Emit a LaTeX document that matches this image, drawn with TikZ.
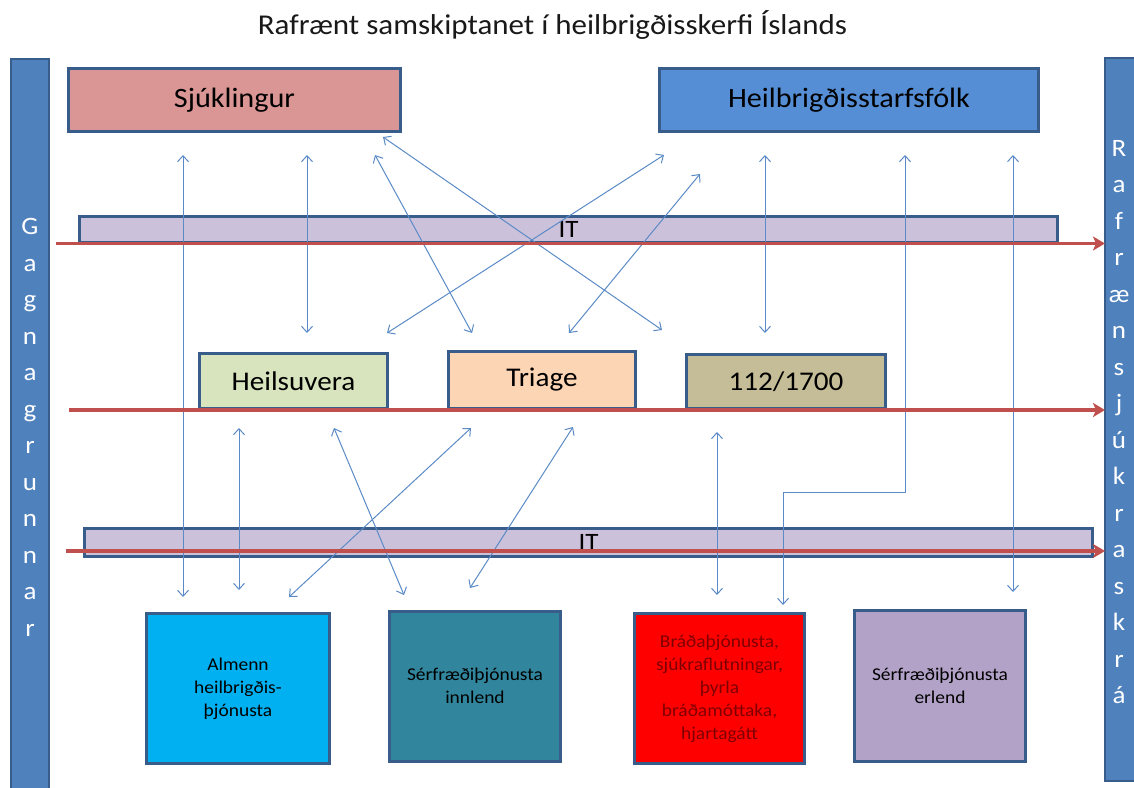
\documentclass[tikz,border=0pt]{standalone}
\usepackage{fontspec}
\setmainfont{Carlito}[FakeStretch=1.08]
\usetikzlibrary{arrows.meta,calc}
\definecolor{barblue}{HTML}{4F81BD}
\definecolor{bordc}{HTML}{385D8A}
\definecolor{sjc}{HTML}{D99694}
\definecolor{hsc}{HTML}{558ED5}
\definecolor{itc}{HTML}{CCC1DA}
\definecolor{hvc}{HTML}{D7E4BD}
\definecolor{trc}{HTML}{FCD5B5}
\definecolor{emc}{HTML}{C4BD97}
\definecolor{almc}{HTML}{00B0F0}
\definecolor{innc}{HTML}{31859C}
\definecolor{brac}{HTML}{FF0000}
\definecolor{erlc}{HTML}{B3A2C7}
\definecolor{redarr}{HTML}{C0504D}
\definecolor{thinc}{HTML}{5B8BC6}
\definecolor{bratext}{HTML}{7F0000}
\begin{document}
\begin{tikzpicture}[x=1pt,y=-1pt,
  box/.style={draw=bordc, line width=3pt, inner sep=0pt, outer sep=0pt, align=center, text=black},
  sidebar/.style={draw=bordc, fill=barblue, line width=2pt, inner sep=0pt, outer sep=0pt},
  sideletters/.style={text=white, align=center, font=\fontsize{25}{36.5}\selectfont, inner sep=0pt},
  bigtxt/.style={font=\fontsize{28}{32}\selectfont},
  midtxt/.style={font=\fontsize{27}{31}\selectfont},
  smalltxt/.style={font=\fontsize{18}{23}\selectfont},
  conn/.style={draw=thinc, line width=1pt, {Straight Barb[length=6pt,width=11pt]}-{Straight Barb[length=6pt,width=11pt]}},
  redline/.style={draw=redarr, line width=3.5pt, -{Stealth[length=12pt,width=14pt,inset=3pt]}}
]
\useasboundingbox (0,0) rectangle (1134,787);
\fill[white] (0,0) rectangle (1134,787);

% title
\node[font=\fontsize{28.7}{32}\selectfont, text=black!90] (title) at (552.5,25) {Rafrænt samskiptanet í heilbrigðisskerfi Íslands};

% side bars
\node[sidebar, minimum width=38pt, minimum height=740pt] (lbar) at (30,428.5) {};
\node[sideletters] (lletters) at (30,427.5) {G\\a\\g\\n\\a\\g\\r\\u\\n\\n\\a\\r};
\node[sidebar, minimum width=38pt, minimum height=723pt] (rbar) at (1124,419.5) {};
\node[sideletters] (rletters) at (1119,422) {R\\a\\f\\r\\æ\\n\\s\\j\\ú\\k\\r\\a\\s\\k\\r\\á};

% top boxes
\node[box, fill=sjc, bigtxt, minimum width=332pt, minimum height=63pt] (sj) at (234.5,100) {Sjúklingur};
\node[box, fill=hsc, bigtxt, minimum width=379pt, minimum height=63pt] (hs) at (849,100) {Heilbrigðisstarfsfólk};

% IT bars
\node[box, fill=itc, font=\fontsize{25}{28}\selectfont, minimum width=978pt, minimum height=26pt] (it1) at (568.5,229) {IT};
\node[box, fill=itc, font=\fontsize{25}{28}\selectfont, minimum width=1008pt, minimum height=28pt] (it2) at (588.5,542.5) {IT};

% middle boxes
\node[box, fill=hvc, midtxt, minimum width=188pt, minimum height=55pt] (hv) at (293.5,381) {Heilsuvera};
\node[box, fill=trc, midtxt, minimum width=187pt, minimum height=57pt] (tr) at (542,380) {Triage};
\node[box, fill=emc, midtxt, minimum width=199pt, minimum height=54pt] (em) at (786,381.5) {112/1700};

% bottom boxes
\node[box, fill=almc, smalltxt, minimum width=183pt, minimum height=150pt] (alm) at (238,688.5) {Almenn\\heilbrigðis-\\þjónusta};
\node[box, fill=innc, smalltxt, minimum width=171pt, minimum height=150pt] (inn) at (475,686) {Sérfræðiþjónusta\\innlend};
\node[box, fill=brac, smalltxt, text=bratext, minimum width=170pt, minimum height=150pt] (bra) at (719.5,688.5) {Bráðaþjónusta,\\sjúkraflutningar,\\þyrla\\bráðamóttaka,\\hjartagátt};
\node[box, fill=erlc, smalltxt, minimum width=171pt, minimum height=151pt] (erl) at (940,686) {Sérfræðiþjónusta\\erlend};

% connector end points
\coordinate (p1a) at ($(sj.south west)+(114.5,23.5)$);
\coordinate (p2a) at ($(sj.south west)+(238.5,23.5)$);
\coordinate (p3a) at ($(sj.south west)+(306.5,23.5)$);
\coordinate (p4a) at ($(sj.south west)+(314.5,5.5)$);
\coordinate (p5a) at ($(hs.south west)+(4.5,23.5)$);
\coordinate (p6a) at ($(hs.south west)+(40.5,42.5)$);
\coordinate (p7a) at ($(hs.south west)+(105.5,23.5)$);
\coordinate (p8a) at ($(hs.south west)+(245.5,23.5)$);
\coordinate (p9a) at ($(hs.south west)+(353.5,23.5)$);
\coordinate (p2b) at ($(hv.north west)+(107.5,-20.5)$);
\coordinate (p5b) at ($(hv.north west)+(187.5,-20.5)$);
\coordinate (p3b) at ($(tr.north west)+(23.5,-18.5)$);
\coordinate (p6b) at ($(tr.north west)+(120.5,-18.5)$);
\coordinate (p4b) at ($(em.north west)+(-24.5,-24.5)$);
\coordinate (p7b) at ($(em.north west)+(78.5,-21.5)$);
\coordinate (p10a) at ($(hv.south west)+(39.5,19.5)$);
\coordinate (p11a) at ($(hv.south west)+(134.5,19.5)$);
\coordinate (p12a) at ($(tr.south west)+(22.5,19.5)$);
\coordinate (p13a) at ($(tr.south west)+(124.5,18.5)$);
\coordinate (p14a) at ($(em.south west)+(30.5,23.5)$);
\coordinate (p1b) at ($(alm.north west)+(36.5,-16.5)$);
\coordinate (p10b) at ($(alm.north west)+(92.5,-23.5)$);
\coordinate (p12b) at ($(alm.north west)+(142.5,-16.5)$);
\coordinate (p11b) at ($(inn.north west)+(14.5,-16)$);
\coordinate (p13b) at ($(inn.north west)+(80.5,-23)$);
\coordinate (p8b) at ($(bra.north west)+(148.5,-8.5)$);
\coordinate (p14b) at ($(bra.north west)+(82.5,-18.5)$);
\coordinate (p9b) at ($(erl.north west)+(158.5,-18.5)$);

% thin connectors
\draw[conn] (p1a) -- (p1b);
\draw[conn] (p2a) -- (p2b);
\draw[conn] (p3a) -- (p3b);
\draw[conn] (p4a) -- (p4b);
\draw[conn] (p5a) -- (p5b);
\draw[conn] (p6a) -- (p6b);
\draw[conn] (p7a) -- (p7b);
\draw[conn] (p8a) |- ($(p8b)+(0,-113)$) -- (p8b);
\draw[conn] (p9a) -- (p9b);
\draw[conn] (p10a) -- (p10b);
\draw[conn] (p11a) -- (p11b);
\draw[conn] (p12a) -- (p12b);
\draw[conn] (p13a) -- (p13b);
\draw[conn] (p14a) -- (p14b);

% red arrows
\draw[redline] ($(lbar.east |- it1.south)+(6.5,1.5)$) -- ($(rbar.west |- it1.south)+(0,1.5)$);
\draw[redline] ($(lbar.east |- hv.south)+(19.5,1.5)$) -- ($(rbar.west |- hv.south)+(0,1.5)$);
\draw[redline] ($(lbar.east |- it2.south)+(17,-5.5)$) -- ($(rbar.west |- it2.south)+(0,-5.5)$);
\end{tikzpicture}
\end{document}
